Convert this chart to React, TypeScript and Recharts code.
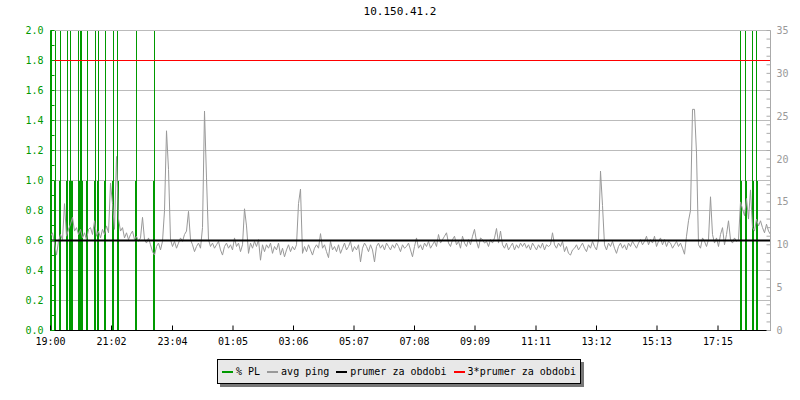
import { ComposedChart, Bar, Line, XAxis, YAxis, CartesianGrid, ReferenceLine } from 'recharts'

// osa x: minuty od 19:00, okno 24 h
const timeLabels = ['19:00', '21:02', '23:04', '01:05', '03:06', '05:07', '07:08', '09:09', '11:11', '13:12', '15:13', '17:15']
const plTicks = [0, 0.1, 0.2, 0.3, 0.4, 0.5, 0.6, 0.7, 0.8, 0.9, 1.0, 1.1, 1.2, 1.3, 1.4, 1.5, 1.6, 1.7, 1.8, 1.9, 2.0]
const plGrid = [0, 0.2, 0.4, 0.6, 0.8, 1.0, 1.2, 1.4, 1.6, 1.8, 2.0]
const msTicks = [0, 1, 2, 3, 4, 5, 6, 7, 8, 9, 10, 11, 12, 13, 14, 15, 16, 17, 18, 19, 20, 21, 22, 23, 24, 25, 26, 27, 28, 29, 30, 31, 32, 33, 34, 35]

// % PL - vypadky (spodni cast do 1.0, tenka spicka az nahoru)
const plTimes = [1, 9, 19, 33, 39, 43, 56, 59, 62, 73, 89, 95, 109, 125, 134, 171, 207, 1381, 1391, 1405, 1413]
const plLoss = [1, 1, 1, 1, 1, 1, 1, 1, 1, 1, 1, 1, 1, 1, 1, 1, 1, 1, 1, 1, 1]
const plSpike = [2, 2, 2, 2, 2, 1, 2, 2, 2, 2, 2, 2, 2, 2, 2, 2, 2, 2, 2, 2, 2]

// avg ping [ms], vzorek po 4 minutach
const PING_STEP = 4
const pingValues = [
  11.0, 11.4, 10.2, 8.8, 10.4, 11.2, 10.6, 14.8, 11.0, 11.8, 12.4, 13.2, 11.6, 12.0, 11.2, 11.8, 10.8, 11.4, 10.6, 11.8,
  12.0, 11.2, 12.8, 11.0, 11.6, 10.8, 11.8, 11.2, 12.2, 11.4, 17.2, 14.8, 11.8, 20.3, 13.0, 11.6, 12.0, 10.8, 11.4, 10.6,
  11.2, 11.6, 10.6, 11.0, 10.4, 10.8, 13.2, 10.6, 10.2, 10.8, 10.0, 9.2, 8.8, 9.8, 10.2, 9.4, 10.4, 14.0, 23.3, 18.8,
  10.6, 9.8, 10.4, 9.6, 10.2, 10.8, 10.4, 11.2, 11.6, 13.9, 10.6, 10.0, 9.2, 9.8, 10.2, 9.6, 12.0, 25.6, 17.8, 10.6,
  9.8, 10.2, 9.6, 10.0, 10.4, 9.4, 8.8, 9.8, 10.2, 9.6, 10.0, 9.4, 10.8, 9.8, 10.2, 9.2, 10.0, 14.2, 12.2, 9.0,
  10.2, 9.6, 10.4, 9.8, 10.6, 8.2, 10.0, 9.2, 10.0, 9.6, 10.2, 9.0, 9.8, 9.4, 10.2, 8.8, 9.6, 8.6, 9.4, 10.0,
  9.2, 9.8, 9.4, 10.0, 14.8, 16.5, 9.0, 9.8, 9.2, 10.0, 9.4, 8.8, 9.6, 10.0, 9.6, 11.3, 9.6, 10.0, 9.2, 8.5,
  10.4, 9.4, 9.8, 9.2, 10.0, 9.0, 9.6, 10.2, 9.4, 9.8, 10.4, 9.2, 9.8, 9.4, 10.0, 8.0, 9.6, 10.2, 9.8, 9.2,
  10.0, 9.4, 8.0, 9.8, 10.2, 9.6, 10.0, 9.4, 10.2, 9.8, 9.4, 10.0, 9.6, 10.2, 9.8, 9.2, 10.0, 9.6, 9.8, 10.2,
  9.4, 8.6, 9.8, 10.8, 9.6, 10.0, 9.4, 10.2, 9.8, 10.4, 9.6, 10.0, 10.4, 9.8, 11.2, 10.2, 10.6, 11.0, 11.4, 10.2,
  9.8, 10.6, 11.0, 10.0, 10.4, 9.6, 11.0, 10.2, 9.8, 10.6, 10.0, 11.0, 11.8, 10.4, 9.6, 10.8, 10.6, 10.2, 10.4, 9.8,
  10.6, 10.2, 10.8, 11.9, 10.2, 11.6, 10.0, 9.6, 10.2, 9.4, 9.8, 10.2, 9.4, 10.0, 9.6, 10.2, 9.8, 10.2, 9.6, 10.0,
  9.4, 10.2, 9.8, 9.4, 10.0, 9.6, 10.2, 9.4, 10.0, 9.8, 10.0, 11.4, 10.0, 9.6, 10.2, 9.8, 10.4, 9.2, 9.8, 9.0,
  8.8, 9.4, 9.6, 10.0, 9.4, 9.8, 10.2, 9.6, 9.2, 10.0, 9.6, 10.4, 9.8, 9.4, 10.6, 18.6, 14.6, 10.0, 9.4, 10.2,
  9.8, 10.4, 9.6, 9.0, 9.8, 10.2, 9.6, 10.0, 9.4, 10.2, 9.8, 10.4, 10.0, 9.6, 10.2, 10.6, 10.0, 10.4, 11.0, 10.0,
  10.6, 10.2, 11.0, 9.8, 10.4, 10.8, 10.0, 10.6, 9.8, 10.4, 10.2, 9.6, 10.0, 10.4, 9.8, 10.2, 9.6, 8.9, 11.0, 12.8,
  14.0, 25.8, 25.8, 20.7, 10.0, 9.6, 10.8, 10.4, 9.8, 10.6, 15.6, 11.2, 10.2, 10.8, 9.8, 11.2, 12.0, 10.0, 11.2, 12.8,
  10.6, 10.2, 10.8, 10.4, 10.6, 15.0, 14.2, 13.4, 15.4, 13.0, 16.4, 12.0, 11.6, 13.0, 12.2, 12.8, 12.0, 11.4, 12.4, 11.6,
  11.2,
]

const avgPing = 10.5

const legendItems = [
  { label: '% PL', color: '#009900' },
  { label: 'avg ping', color: '#999999' },
  { label: 'prumer za obdobi', color: '#000000' },
  { label: '3*prumer za obdobi', color: '#ff0000' },
]

const FONT = '"DejaVu Sans Mono", monospace'
const GREEN = '#009900'

const toMinutes = (label: string) => {
  const [h, m] = label.split(':').map(Number)
  return (h * 60 + m - 19 * 60 + 1440) % 1440
}
const timeTicks = timeLabels.map(toMinutes)

const pingData = pingValues.map((v, i) => ({ t: i * PING_STEP, ping: v }))
const plData = plTimes.map((t, i) => ({ t, loss: plLoss[i], spike: plSpike[i] - plLoss[i] }))

// sloupec na stredu pozice, zarovnany na cele pixely (ostre hrany jako rrdtool)
const barShape = (w: number) => (p: any) => {
  if (!p.height) return <g />
  const left = Math.round(p.x + p.width / 2 - w / 2)
  return <rect x={left} y={p.y} width={w} height={p.height} fill={GREEN} shapeRendering="crispEdges" />
}

function LeftTick(props: any) {
  const { x, y, payload } = props
  const v = payload.value as number
  const major = Math.round(v * 10) % 2 === 0
  return (
    <g>
      <line x1={x} x2={x + 4} y1={y} y2={y} stroke={GREEN} />
      {major && (
        <text x={x - 7} y={y} textAnchor="end" dominantBaseline="central" fill={GREEN} fontSize={10} fontFamily={FONT}>
          {v.toFixed(1)}
        </text>
      )}
    </g>
  )
}

function RightTick(props: any) {
  const { x, y, payload } = props
  const v = payload.value as number
  return (
    <g>
      <line x1={x - 4} x2={x} y1={y} y2={y} stroke="#aaaaaa" />
      {v % 5 === 0 && (
        <text x={x + 6} y={y} textAnchor="start" dominantBaseline="central" fill="#999999" fontSize={10} fontFamily={FONT}>
          {v}
        </text>
      )}
    </g>
  )
}

function TimeTick(props: any) {
  const { x, y, index } = props
  return (
    <g>
      <line x1={x} x2={x} y1={y - 5} y2={y} stroke="#000" />
      <text x={x} y={y + 11} textAnchor="middle" dominantBaseline="central" fill="#000" fontSize={10} fontFamily={FONT}>
        {timeLabels[index]}
      </text>
    </g>
  )
}

export default function App() {
  return (
    <div style={{ position: 'relative', width: 800, height: 400, background: '#fff', fontFamily: FONT }}>
      <style>{'body{margin:0}'}</style>
      <div style={{ position: 'absolute', top: 5, left: 0, width: 800, textAlign: 'center', fontSize: 11, lineHeight: '14px' }}>
        10.150.41.2
      </div>
      <ComposedChart width={800} height={400} data={plData} margin={{ top: 30.5, right: 0, bottom: 0, left: 0.5 }}>
        <CartesianGrid yAxisId="pl" xAxisId="time" vertical={false} horizontalValues={plGrid} stroke="#bbbbbb" />
        <XAxis
          xAxisId="time"
          dataKey="t"
          type="number"
          domain={[0, 1440]}
          allowDataOverflow
          ticks={timeTicks}
          interval={0}
          height={69.5}
          tickSize={0}
          tickMargin={0}
          tickLine={false}
          tick={(p: any) => <TimeTick {...p} />}
          axisLine={{ stroke: '#000' }}
        />
        <YAxis
          yAxisId="pl"
          orientation="left"
          width={50}
          domain={[0, 2]}
          allowDataOverflow
          ticks={plTicks}
          interval={0}
          tickSize={0}
          tickMargin={0}
          tickLine={false}
          tick={(p: any) => <LeftTick {...p} />}
          axisLine={{ stroke: GREEN }}
        />
        <YAxis
          yAxisId="ms"
          orientation="right"
          width={29.5}
          domain={[0, 35]}
          allowDataOverflow
          ticks={msTicks}
          interval={0}
          tickSize={0}
          tickMargin={0}
          tickLine={false}
          tick={(p: any) => <RightTick {...p} />}
          axisLine={{ stroke: '#aaaaaa' }}
        />
        <Bar xAxisId="time" yAxisId="pl" dataKey="loss" stackId="pl" shape={barShape(2)} isAnimationActive={false} />
        <Bar xAxisId="time" yAxisId="pl" dataKey="spike" stackId="pl" shape={barShape(1)} isAnimationActive={false} />
        <Line
          xAxisId="time"
          yAxisId="ms"
          data={pingData}
          dataKey="ping"
          type="linear"
          stroke="#999999"
          strokeWidth={1}
          dot={false}
          activeDot={false}
          isAnimationActive={false}
        />
        <ReferenceLine xAxisId="time" yAxisId="ms" y={avgPing} stroke="#000" strokeWidth={2} />
        <ReferenceLine xAxisId="time" yAxisId="ms" y={avgPing * 3} stroke="#ff0000" strokeWidth={1} />
      </ComposedChart>
      <div
        style={{
          position: 'absolute',
          left: 217,
          top: 359,
          width: 364,
          height: 25,
          boxSizing: 'border-box',
          border: '1px solid #000',
          background: '#e8e8e8',
          boxShadow: '3px 3px 0 #777',
          display: 'flex',
          alignItems: 'center',
          paddingLeft: 4,
          fontSize: 10,
          whiteSpace: 'nowrap',
        }}
      >
        {legendItems.map((it) => (
          <span key={it.label} style={{ display: 'flex', alignItems: 'center', marginRight: 7 }}>
            <span style={{ display: 'inline-block', width: 11, height: 2, background: it.color, marginRight: 3 }} />
            <span>{it.label}</span>
          </span>
        ))}
      </div>
    </div>
  )
}
